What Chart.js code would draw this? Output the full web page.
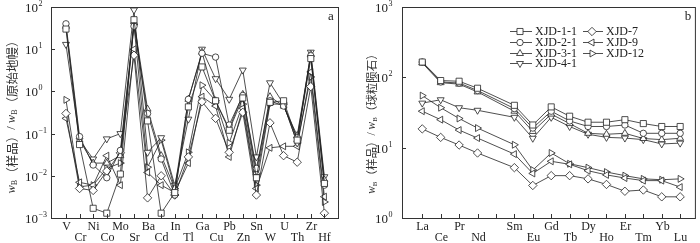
<!DOCTYPE html>
<html>
<head>
<meta charset="utf-8">
<script src="https://cdn.jsdelivr.net/npm/chart.js@4.4.1/dist/chart.umd.min.js"></script>
<style>
  body { margin: 0; background: #fff; width: 700px; height: 243px; overflow: hidden; position: relative; }
  canvas { position: absolute; top: 0; }
  #chartA { left: 0; }
  #chartB { left: 350px; }
</style>
</head>
<body>
<canvas id="chartA" width="350" height="243"></canvas>
<canvas id="chartB" width="350" height="243"></canvas>
<script>
// Panel a - trace elements, normalised to primitive mantle
const traceElements = ["V", "Cr", "Ni", "Co", "Mo", "Sr", "Ba", "Cd", "In", "Tl", "Ga", "Cu", "Pb", "Zn", "Sn", "W", "U", "Th", "Zr", "Hf"];
const trace_1_1 = [30, 0.055, 0.0017, 0.0013, 0.011, 50, 0.2, 0.0013, 0.004, 0.43, 3.8, 0.6, 0.12, 0.7, 0.009, 0.55, 0.6, 0.07, 6, 0.0066];
const trace_2_1 = [40, 0.085, 0.018, 0.009, 0.04, 35, 0.3, 0.025, 0.0035, 0.65, 8, 6.5, 0.16, 0.8, 0.015, 0.6, 0.45, 0.08, 7, 0.006];
const trace_3_1 = [35, 0.07, 0.02, 0.02, 0.03, 45, 0.38, 0.03, 0.005, 0.65, 8.5, 0.6, 0.13, 0.85, 0.012, 0.75, 0.45, 0.09, 7.5, 0.008];
const trace_4_1 = [13, 0.07, 0.025, 0.075, 0.1, 85, 0.036, 0.08, 0.006, 0.22, 10, 2, 0.65, 3.2, 0.028, 1.6, 0.5, 0.06, 8.5, 0.0095];
const trace_7 = [0.3, 0.005, 0.0045, 0.013, 0.035, 7.2, 0.003, 0.01, 0.0035, 0.028, 0.57, 0.23, 0.036, 0.32, 0.0035, 0.18, 0.03, 0.021, 1.3, 0.0013];
const trace_9 = [0.23, 0.007, 0.006, 0.03, 0.006, 10, 0.012, 0.006, 0.004, 0.02, 0.75, 0.45, 0.028, 0.4, 0.005, 0.046, 0.05, 0.05, 2.9, 0.0032];
const trace_12 = [0.63, 0.0055, 0.006, 0.015, 0.02, 38, 0.016, 0.07, 0.005, 0.036, 1.4, 0.6, 0.06, 0.5, 0.006, 0.5, 0.5, 0.06, 2.2, 0.0024];

// Panel b - REE, normalised to chondrite (Pm not analysed)
const reeElements = ["La", "Ce", "Pr", "Nd", "Pm", "Sm", "Eu", "Gd", "Tb", "Dy", "Ho", "Er", "Tm", "Yb", "Lu"];
const reeTickLabels = ["La", "Ce", "Pr", "Nd", "", "Sm", "Eu", "Gd", "Tb", "Dy", "Ho", "Er", "Tm", "Yb", "Lu"];
const ree_1_1 = [165, 90, 88, 70, null, 40, 21, 38, 28, 23, 23, 25, 22, 20, 20];
const ree_2_1 = [165, 86, 83, 65, null, 36, 19, 33, 24, 20, 20, 21, 16, 16, 16];
const ree_3_1 = [160, 84, 80, 62, null, 33, 17, 30, 22, 16, 15.5, 16, 13.5, 13, 13.6];
const ree_4_1 = [43, 48, 37, 34, null, 27, 13.6, 27, 20, 15.5, 14, 13.7, 13, 11.3, 11.6];
const ree_7 = [18.5, 14, 10.9, 8.4, null, 5.2, 2.9, 4, 4, 3.6, 3, 2.4, 2.5, 2, 2];
const ree_9 = [33, 25, 17.8, 13.7, null, 8.1, 4.3, 6.4, 5.8, 4.7, 4.1, 3.7, 3.4, 3.4, 2.75];
const ree_12 = [55, 37, 26, 19, null, 11, 4.8, 8.4, 5.9, 5.2, 4.5, 4.0, 3.6, 3.5, 3.6];

const sampleNames = ["XJD-1-1", "XJD-2-1", "XJD-3-1", "XJD-4-1", "XJD-7", "XJD-9", "XJD-12"];
const traceSeries = [trace_1_1, trace_2_1, trace_3_1, trace_4_1, trace_7, trace_9, trace_12];
const reeSeries = [ree_1_1, ree_2_1, ree_3_1, ree_4_1, ree_7, ree_9, ree_12];

// marker per sample (square, circle, up, down, diamond, left, right)
const markers = [
  { pointStyle: "rect", rotation: 0, radius: 4.3 },
  { pointStyle: "circle", rotation: 0, radius: 3.2 },
  { pointStyle: "triangle", rotation: 0, radius: 4 },
  { pointStyle: "triangle", rotation: 180, radius: 4 },
  { pointStyle: "rectRot", rotation: 0, radius: 4.2 },
  { pointStyle: "triangle", rotation: 270, radius: 4 },
  { pointStyle: "triangle", rotation: 90, radius: 4 },
];

const INK = "#222";
const SERIF = '"Liberation Serif", "DejaVu Serif", serif';
const CJK = '"Noto Sans CJK SC", sans-serif';

function makeDatasets(series) {
  return series.map((vals, s) => ({
    label: sampleNames[s],
    data: vals.map((v, i) => ({ x: i, y: v })),
    borderColor: INK,
    borderWidth: 0.8,
    backgroundColor: "#fff",
    pointStyle: markers[s].pointStyle,
    pointRotation: markers[s].rotation,
    pointRadius: markers[s].radius,
    pointBorderWidth: 0.8,
    pointBorderColor: INK,
    pointBackgroundColor: "#fff",
    spanGaps: true,
    tension: 0,
  }));
}

// draw w_B(...) / w_B(...) vertical title
function drawTitle(ctx, cx, cy, cjk1, cjk2, size) {
  const parts = [
    { t: "w", f: "italic " + size + "px " + SERIF, dy: 0 },
    { t: "B", f: Math.round(size * 0.6) + "px " + SERIF, dy: 3 },
    { t: cjk1, f: size + "px " + CJK, dy: 0 },
    { t: "/ ", f: size + "px " + SERIF, dy: 0 },
    { t: "w", f: "italic " + size + "px " + SERIF, dy: 0 },
    { t: "B", f: Math.round(size * 0.6) + "px " + SERIF, dy: 3 },
    { t: cjk2, f: size + "px " + CJK, dy: 0 },
  ];
  let total = 0;
  parts.forEach((p) => { ctx.font = p.f; p.w = ctx.measureText(p.t).width; total += p.w; });
  ctx.save();
  ctx.translate(cx, cy);
  ctx.rotate(-Math.PI / 2);
  ctx.fillStyle = "#333";
  ctx.textBaseline = "middle";
  ctx.textAlign = "left";
  let x = -total / 2;
  parts.forEach((p) => { ctx.font = p.f; ctx.fillText(p.t, x, p.dy); x += p.w; });
  ctx.restore();
}

// frame, inward ticks, tick labels, axis title, panel letter
const framePlugin = {
  id: "frame",
  afterDraw(chart, args, opts) {
    const { ctx, chartArea: { left, right, top, bottom }, scales: { x, y } } = chart;
    ctx.save();
    ctx.strokeStyle = "#333";
    ctx.lineWidth = 1;
    ctx.strokeRect(left + 0.5, top + 0.5, right - left, bottom - top);
    ctx.fillStyle = "#222";
    ctx.font = "12px " + SERIF;
    ctx.textAlign = "center";
    ctx.textBaseline = "middle";
    let n = 0; // alternate rows over the labels actually shown
    opts.labels.forEach((lab, i) => {
      const px = Math.round(x.getPixelForValue(i)) + 0.5;
      ctx.beginPath();
      ctx.moveTo(px, bottom);
      ctx.lineTo(px, bottom - 4);
      ctx.stroke();
      if (lab) {
        ctx.fillText(lab, px, n % 2 ? bottom + 20 : bottom + 9);
        n++;
      }
    });
    opts.decades.forEach((e) => {
      const py = Math.round(y.getPixelForValue(Math.pow(10, e))) + 0.5;
      ctx.beginPath();
      ctx.moveTo(left, py);
      ctx.lineTo(left + 4, py);
      ctx.stroke();
      ctx.textAlign = "left";
      ctx.font = "13px " + SERIF;
      ctx.fillText("10", opts.labelX, py + 1);
      const w = ctx.measureText("10").width;
      ctx.font = "8px " + SERIF;
      ctx.fillText(e < 0 ? "\u2212" + Math.abs(e) : String(e), opts.labelX + w + 0.5, py - 4);
    });
    ctx.font = "13px " + SERIF;
    ctx.textAlign = "center";
    ctx.fillText(opts.letter, right - 7, top + 10);
    ctx.restore();
    drawTitle(ctx, opts.titleX, opts.titleY, opts.cjk1, opts.cjk2, opts.titleSize);
  },
};

// legend for panel b
const legendPlugin = {
  id: "sampleLegend",
  afterDraw(chart, args, opts) {
    if (!opts.show) return;
    const { ctx } = chart;
    const cols = [{ x0: 160, x1: 182, mx: 170, tx: 185 }, { x0: 233, x1: 253, mx: 242, tx: 256 }];
    const rows = [31, 42, 53, 63];
    ctx.save();
    sampleNames.forEach((name, s) => {
      const c = cols[s < 4 ? 0 : 1];
      const yy = rows[s < 4 ? s : s - 4] + 0.5;
      ctx.strokeStyle = INK;
      ctx.lineWidth = 0.8;
      ctx.beginPath();
      ctx.moveTo(c.x0, yy);
      ctx.lineTo(c.x1, yy);
      ctx.stroke();
      ctx.fillStyle = "#fff";
      Chart.helpers.drawPoint(ctx, { pointStyle: markers[s].pointStyle, rotation: markers[s].rotation, radius: markers[s].radius, borderWidth: 0.8 }, c.mx, yy);
      ctx.fillStyle = "#222";
      ctx.font = "12px " + SERIF;
      ctx.textAlign = "left";
      ctx.textBaseline = "middle";
      ctx.fillText(name, c.tx, yy);
    });
    ctx.restore();
  },
};

function makeChart(id, series, labels, yMin, yMax, xMax, pad, frameOpts, showLegend) {
  return new Chart(document.getElementById(id), {
    type: "line",
    data: { datasets: makeDatasets(series) },
    plugins: [framePlugin, legendPlugin],
    options: {
      responsive: false,
      animation: false,
      layout: { padding: pad },
      plugins: {
        legend: { display: false },
        tooltip: { enabled: false },
        frame: Object.assign({ labels: labels }, frameOpts),
        sampleLegend: { show: showLegend },
      },
      scales: {
        x: { type: "linear", display: false, min: -1.1, max: xMax },
        y: { type: "logarithmic", display: false, min: yMin, max: yMax },
      },
    },
  });
}

makeChart("chartA", traceSeries, traceElements, 0.001, 100, 20,
  { left: 51, right: 12, top: 7, bottom: 25 },
  { decades: [2, 1, 0, -1, -2, -3], labelX: 25, letter: "a", titleX: 12, titleY: 114, cjk1: "（样品）", cjk2: "（原始地幔）", titleSize: 12.5 },
  false);

makeChart("chartB", reeSeries, reeTickLabels, 1, 1000, 14.8,
  { left: 52, right: 3, top: 7, bottom: 25 },
  { decades: [3, 2, 1, 0], labelX: 25, letter: "b", titleX: 22, titleY: 121, cjk1: "（样品）", cjk2: "（球粒陨石）", titleSize: 11.5 },
  true);
</script>
</body>
</html>
